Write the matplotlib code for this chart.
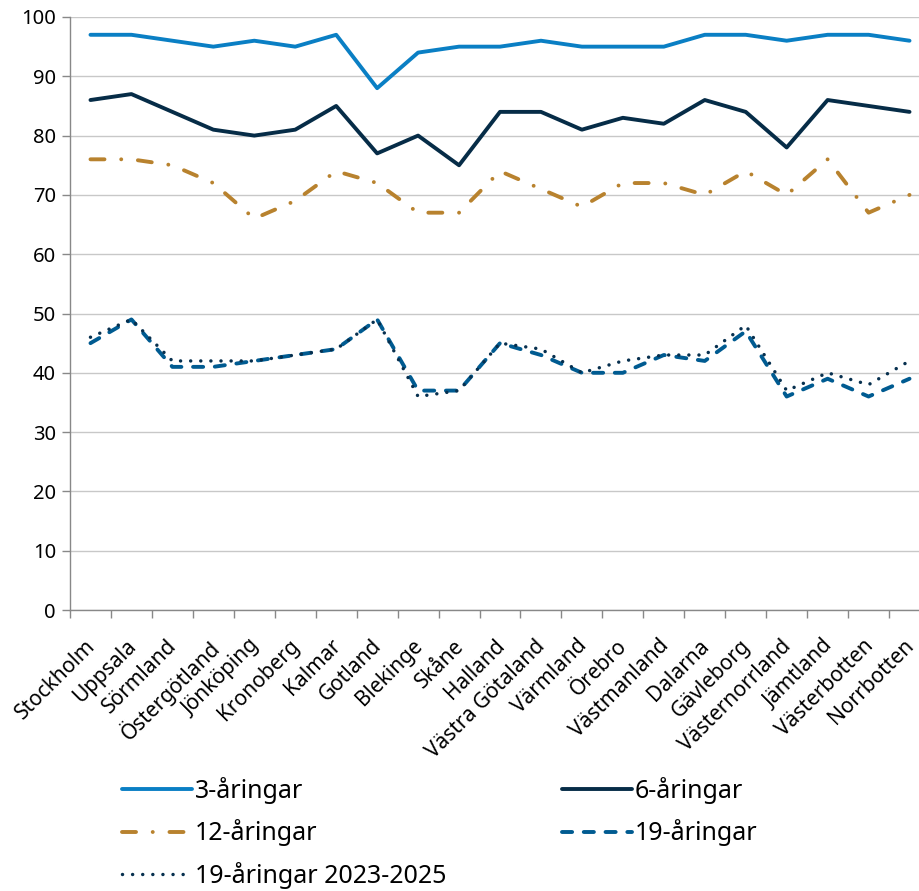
import matplotlib
matplotlib.use("Agg")
import matplotlib.pyplot as plt
import matplotlib.transforms as mtransforms
import numpy as np

plt.rcParams['font.family'] = ['Noto Sans', 'DejaVu Sans']

regions = ['Stockholm', 'Uppsala', 'Sörmland', 'Östergötland', 'Jönköping', 'Kronoberg',
           'Kalmar', 'Gotland', 'Blekinge', 'Skåne', 'Halland', 'Västra Götaland',
           'Värmland', 'Örebro', 'Västmanland', 'Dalarna', 'Gävleborg', 'Västernorrland',
           'Jämtland', 'Västerbotten', 'Norrbotten']

age3 = [97, 97, 96, 95, 96, 95, 97, 88, 94, 95, 95, 96, 95, 95, 95, 97, 97, 96, 97, 97, 96]
age6 = [86, 87, 84, 81, 80, 81, 85, 77, 80, 75, 84, 84, 81, 83, 82, 86, 84, 78, 86, 85, 84]
age12 = [76, 76, 75, 72, 66, 69, 74, 72, 67, 67, 74, 71, 68, 72, 72, 70, 74, 70, 76, 67, 70]
age19 = [45, 49, 41, 41, 42, 43, 44, 49, 37, 37, 45, 43, 40, 40, 43, 42, 47, 36, 39, 36, 39]
age19_2325 = [46, 49, 42, 42, 42, 43, 44, 49, 36, 37, 45, 44, 40, 42, 43, 43, 48, 37, 40, 38, 42]

fig = plt.figure(figsize=(9.2, 8.91), dpi=100)
ax = fig.add_axes([70 / 920, 1 - 610 / 891, 860 / 920, 593 / 891])

x = np.arange(len(regions))
lw = 2.8
l3, = ax.plot(x, age3, color='#0a7fc4', lw=lw, solid_capstyle='round',
              solid_joinstyle='round', label='3-åringar')
l6, = ax.plot(x, age6, color='#062c47', lw=lw, solid_capstyle='round',
              solid_joinstyle='round', label='6-åringar')
l12, = ax.plot(x, age12, color='#b8822e', lw=lw, dashes=(3.6, 4.3, 0.01, 4.3),
               dash_capstyle='round', label='12-åringar')
l19, = ax.plot(x, age19, color='#005b91', lw=lw, dashes=(2.6, 3.0),
               dash_capstyle='round', label='19-åringar')
l19b, = ax.plot(x, age19_2325, color='#07304f', lw=2.5, dashes=(0.01, 2.9),
                dash_capstyle='round', label='19-åringar 2023-2025')

ax.set_xlim(-0.5, len(regions) - 0.5)
ax.set_ylim(0, 100)
ax.set_yticks(range(0, 101, 10))
ax.grid(axis='y', color='#c8c8c8', lw=1)
ax.set_axisbelow(True)

ax.set_xticks(x)
ax.set_xticklabels(regions, rotation=45, ha='right', rotation_mode='anchor', fontsize=15)
ax.set_xticks(np.arange(-0.5, len(regions)), minor=True)
ax.tick_params(axis='x', which='major', length=0, pad=14)
ax.tick_params(axis='x', which='minor', length=6, color='#888888', width=1)
ax.tick_params(axis='y', length=6, color='#888888', width=1, labelsize=14.5, pad=4)

# nudge the rotated labels a little down-left, as in the original
shift = mtransforms.ScaledTranslation(-6 / 100, -6 / 100, fig.dpi_scale_trans)
for lab in ax.get_xticklabels():
    lab.set_transform(lab.get_transform() + shift)

for s in ['top', 'right']:
    ax.spines[s].set_visible(False)
for s in ['left', 'bottom']:
    ax.spines[s].set_color('#888888')
    ax.spines[s].set_linewidth(1)

handles = [l3, l12, l19b, l6, l19]
fig.legend(handles, [h.get_label() for h in handles], ncol=2, frameon=False,
           loc='upper left', bbox_to_anchor=(112 / 920, 1 - 767 / 891),
           fontsize=18, handlelength=2.8, handletextpad=0.12, columnspacing=4.6,
           labelspacing=0.62, borderaxespad=0)

fig.savefig('out.png', dpi=100)
